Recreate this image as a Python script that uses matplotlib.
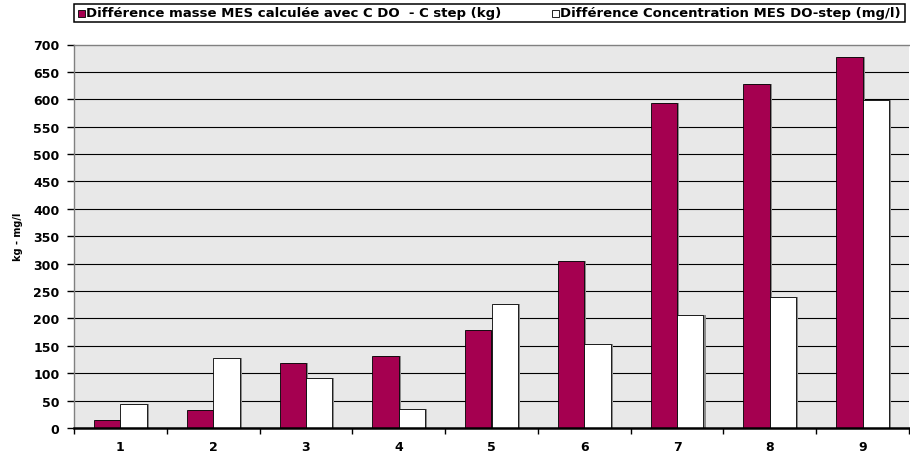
import matplotlib
matplotlib.use("Agg")
import matplotlib.pyplot as plt
from matplotlib.patches import Rectangle
import numpy as np

categories = ["1", "2", "3", "4", "5", "6", "7", "8", "9"]
masse_kg = [15, 33, 119, 131, 179, 304, 594, 627, 678]
concentration_mgl = [43, 127, 91, 35, 227, 153, 207, 240, 598]
label_masse = "Différence masse MES calculée avec C DO  - C step (kg)"
label_conc = "Différence Concentration MES DO-step (mg/l)"
y_ticks = list(range(0, 701, 50))

W, H = 910, 456
fig = plt.figure(figsize=(W / 100, H / 100), dpi=100)
ax = fig.add_axes([74 / W, 1 - 429 / H, 835 / W, (429 - 45.5) / H])
ax.set_facecolor("#E8E8E8")

x = np.arange(len(categories))
bw = 0.285
shadow_dx = 0.022
red = "#A50050"

# drop shadows on the right of each bar
ax.bar(x - bw / 2 + shadow_dx, masse_kg, bw, color="#8C8C8C", zorder=2, linewidth=0)
ax.bar(x + bw / 2 + shadow_dx, concentration_mgl, bw, color="#8C8C8C", zorder=2, linewidth=0)
ax.bar(x - bw / 2, masse_kg, bw, color=red, edgecolor="black", linewidth=0.6, zorder=3)
ax.bar(x + bw / 2, concentration_mgl, bw, color="white", edgecolor="black", linewidth=0.6,
       zorder=3)

ax.set_xlim(-0.5, len(categories) - 0.5)
ax.set_ylim(0, 700)
ax.set_yticks(y_ticks)
ax.set_yticklabels([str(v) for v in y_ticks], fontfamily="DejaVu Sans",
                   fontweight="bold", fontsize=9)
for v in y_ticks[1:-1]:
    ax.axhline(v, color="black", linewidth=0.8, zorder=1)

ax.set_xticks(np.arange(-0.5, len(categories)), labels=[""] * (len(categories) + 1))
ax.set_xticks(x, minor=True)
ax.set_xticklabels(categories, minor=True, fontfamily="DejaVu Sans",
                   fontweight="bold", fontsize=9)
ax.tick_params(axis="x", which="major", direction="out", length=4, width=1, color="black")
ax.tick_params(axis="x", which="minor", length=0, pad=9)
ax.tick_params(axis="y", direction="out", length=5, width=1, color="black", pad=5.5)

for s in ("top", "left"):
    ax.spines[s].set_color("#808080")
    ax.spines[s].set_linewidth(1)
ax.spines["right"].set_visible(False)
ax.spines["bottom"].set_color("black")
ax.spines["bottom"].set_linewidth(1.8)
ax.spines["bottom"].set_zorder(4)

ax.set_ylabel("kg - mg/l", fontfamily="DejaVu Sans", fontweight="bold", fontsize=7,
              labelpad=7)

# legend box across the top, drawn by hand
def fx(px):
    return px / W

def fy(py):
    return 1 - py / H

fig.patches.append(Rectangle((fx(74), fy(23)), fx(831), 18 / H,
                             transform=fig.transFigure, facecolor="white",
                             edgecolor="black", linewidth=1.1))
legend_items = [(78, red, label_masse), (552, "white", label_conc)]
for x0, col, txt in legend_items:
    fig.patches.append(Rectangle((fx(x0), fy(17.5)), 7 / W, 7 / H,
                                 transform=fig.transFigure, facecolor=col,
                                 edgecolor="black", linewidth=0.6))
    fig.text(fx(x0 + 8), fy(14), txt, ha="left", va="center",
             fontfamily="DejaVu Sans", fontweight="bold", fontsize=9.5)

fig.savefig("out.png", dpi=100)
